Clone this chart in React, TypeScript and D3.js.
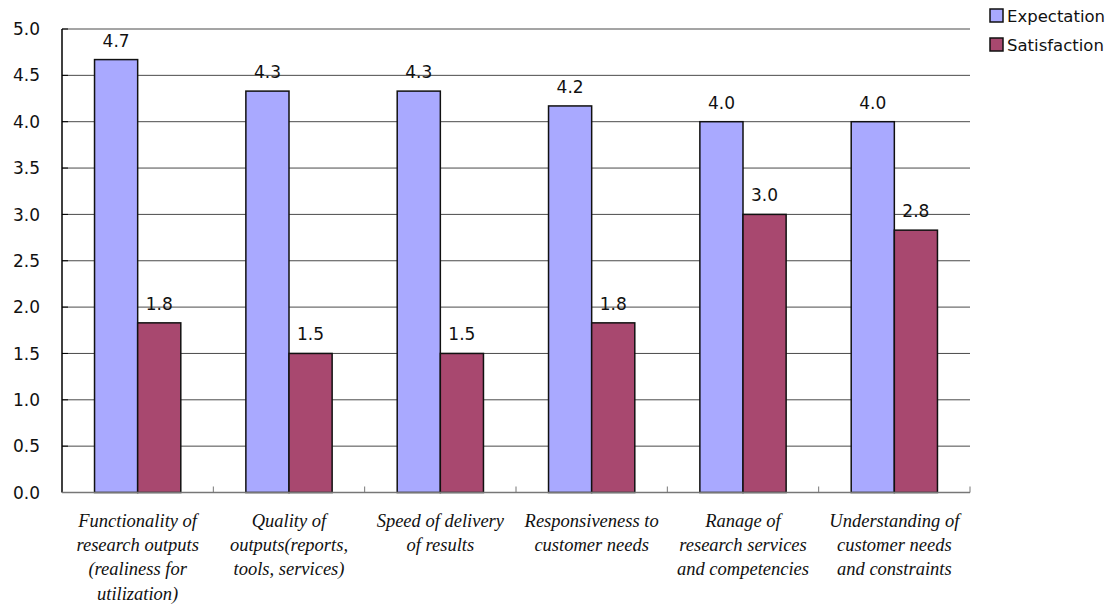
import React from "react";
import * as d3 from "d3";

const categories: string[][] = [
  ["Functionality of", "research outputs", "(realiness for", "utilization)"],
  ["Quality of", "outputs(reports,", "tools, services)"],
  ["Speed of delivery", "of results"],
  ["Responsiveness to", "customer needs"],
  ["Ranage of", "research services", "and competencies"],
  ["Understanding of", "customer needs", "and constraints"],
];
const expectation = [4.67, 4.33, 4.33, 4.17, 4.0, 4.0];
const satisfaction = [1.83, 1.5, 1.5, 1.83, 3.0, 2.83];
const seriesNames = ["Expectation", "Satisfaction"];
const yTicks = [0, 0.5, 1, 1.5, 2, 2.5, 3, 3.5, 4, 4.5, 5];

const W = 1111;
const H = 605;
const left = 62;
const right = 970;
const top = 29;
const bottom = 492.5;
const colors = ["#a9a9ff", "#a8486f"];
const numStyle = { fontFamily: "DejaVu Sans", fontSize: 17 };
const labelStyle = { fontFamily: "Liberation Serif", fontSize: 18.5, fontStyle: "italic" as const };

export default function App() {
  const idx = categories.map((_, i) => i);
  const x = d3.scaleBand<number>().domain(idx).range([left, right]).paddingInner(0).paddingOuter(0);
  const y = d3.scaleLinear().domain([0, 5]).range([bottom, top]);
  const barW = x.bandwidth() * 0.285;
  const series = [expectation, satisfaction];

  return (
    <svg width={W} height={H} style={{ position: "absolute", left: 0, top: 0 }}>
      <rect width={W} height={H} fill="#fff" />
      {/* gridlines and y ticks */}
      {yTicks.map((t) => (
        <g key={t}>
          {t > 0 && (
            <line x1={left} x2={right} y1={y(t)} y2={y(t)} stroke="#4a4a4a" strokeWidth={1} />
          )}
          <line x1={left} x2={left + 6} y1={y(t)} y2={y(t)} stroke="#000" strokeWidth={1} />
          <text x={40} y={y(t)} dy="0.36em" textAnchor="end" style={numStyle} fill="#111">
            {t.toFixed(1)}
          </text>
        </g>
      ))}
      {/* bars */}
      {series.map((vals, s) =>
        vals.map((v, i) => {
          const cx = (x(i) as number) + x.bandwidth() / 2;
          const bx = cx - barW + s * barW;
          return (
            <g key={`${s}-${i}`}>
              <rect
                x={bx}
                y={y(v)}
                width={barW}
                height={bottom - y(v)}
                fill={colors[s]}
                stroke="#111"
                strokeWidth={1.5}
              />
              <text x={bx + barW / 2} y={y(v) - 13} textAnchor="middle" style={numStyle} fill="#111">
                {v.toFixed(1)}
              </text>
            </g>
          );
        })
      )}
      {/* axes */}
      <line x1={left} x2={left} y1={top} y2={bottom} stroke="#000" strokeWidth={1.5} />
      <line x1={left} x2={right} y1={bottom} y2={bottom} stroke="#777" strokeWidth={1.5} />
      {idx.slice(1).concat([idx.length]).map((i) => {
        const bx = i < idx.length ? (x(i) as number) : right;
        return <line key={i} x1={bx} x2={bx} y1={bottom} y2={bottom - 6} stroke="#777" strokeWidth={1} />;
      })}
      {/* category labels */}
      {categories.map((lines, i) => (
        <text key={i} textAnchor="middle" style={labelStyle} fill="#111">
          {lines.map((ln, j) => (
            <tspan key={j} x={(x(i) as number) + x.bandwidth() / 2} y={527 + j * 24.2}>
              {ln}
            </tspan>
          ))}
        </text>
      ))}
      {/* legend */}
      {seriesNames.map((name, s) => (
        <g key={name} transform={`translate(990, ${9 + s * 29})`}>
          <rect width={13} height={13} fill={colors[s]} stroke="#111" strokeWidth={1.5} />
          <text x={17} y={7} dy="0.36em" style={{ fontFamily: "DejaVu Sans", fontSize: 16.5 }} fill="#111">
            {name}
          </text>
        </g>
      ))}
    </svg>
  );
}
